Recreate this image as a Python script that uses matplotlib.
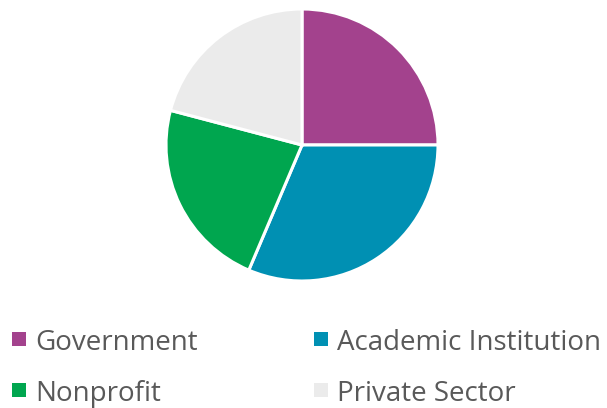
import matplotlib
matplotlib.use("Agg")
import matplotlib.pyplot as plt
from matplotlib.patches import Rectangle

categories = ["Government", "Academic Institution", "Nonprofit", "Private Sector"]
values = [25.0, 31.4, 22.7, 20.9]
colors = ["#A3428D", "#0090B3", "#00A64F", "#EBEBEB"]

W, H = 607, 408
fig = plt.figure(figsize=(W / 100, H / 100), dpi=100)

cx, cy, r = 302, 145, 136
ax = fig.add_axes([(cx - r) / W, (H - cy - r) / H, 2 * r / W, 2 * r / H])
ax.pie(values, colors=colors, startangle=90, counterclock=False,
       wedgeprops=dict(edgecolor="white", linewidth=2.2), radius=1.0)
ax.set_xlim(-1, 1)
ax.set_ylim(-1, 1)
ax.set_aspect("equal")
ax.axis("off")

# legend (manual, two columns): marker left x, row baseline y
pos = [(12, 350), (314, 350), (12, 401), (314, 401)]
sq = 14
for (x, y), lab, col in zip(pos, categories, colors):
    fig.add_artist(Rectangle((x / W, (H - y + 4) / H), sq / W, sq / H,
                             transform=fig.transFigure, facecolor=col, edgecolor="none"))
    fig.text((x + 23) / W, (H - y) / H, lab, fontsize=20, color="#595959",
             family="Open Sans", va="baseline", ha="left")

fig.savefig("out.png", dpi=100)
